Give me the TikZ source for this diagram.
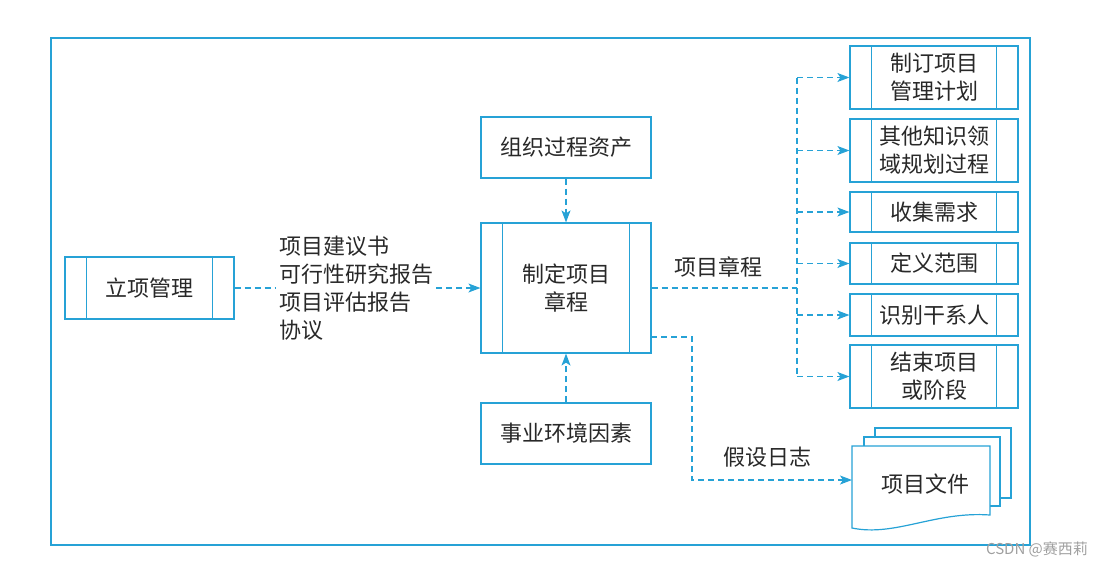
\documentclass[tikz,border=0pt]{standalone}
\usepackage{fontspec}
\setmainfont{Noto Sans CJK SC}
\usetikzlibrary{arrows.meta,calc}
\definecolor{ln}{RGB}{38,162,214}
\definecolor{tx}{RGB}{40,40,40}
\begin{document}
\begin{tikzpicture}[x=1pt,y=-1pt,
  every node/.style={font=\fontsize{22}{28}\selectfont, text=tx},
  proc/.style={draw=ln, line width=1.2pt, fill=white, rectangle, inner sep=0pt, align=center,
    path picture={
      \draw[ln,line width=1.2pt] ([xshift=21.5pt]path picture bounding box.north west) -- ([xshift=21.5pt]path picture bounding box.south west);
      \draw[ln,line width=1.2pt] ([xshift=-21.5pt]path picture bounding box.north east) -- ([xshift=-21.5pt]path picture bounding box.south east);
    }},
  plain/.style={draw=ln, line width=1.2pt, fill=white, rectangle, inner sep=0pt, align=center},
  conn/.style={ln, line width=1.1pt, dash pattern=on 6pt off 4pt},
  arr/.style={conn, -{Stealth[length=12pt,width=9pt,inset=3pt]}}
]
\useasboundingbox (0,0) rectangle (1099,565);
% frame
\draw[ln, line width=1.3pt] (51,38) rectangle (1030,545);

% nodes
\node[proc, minimum width=169pt, minimum height=62pt] (lx) at (149.5,288) {立项管理};
\node[plain, minimum width=170pt, minimum height=61pt] (org) at (566,147.5) {组织过程资产};
\node[proc, minimum width=170pt, minimum height=130pt] (charter) at (566,288) {制定项目\\章程};
\node[plain, minimum width=170pt, minimum height=61pt] (env) at (566,433.5) {事业环境因素};

\node[proc, minimum width=168pt, minimum height=63pt] (r1) at (934,77.5) {制订项目\\管理计划};
\node[proc, minimum width=168pt, minimum height=63pt] (r2) at (934,150.5) {其他知识领\\域规划过程};
\node[proc, minimum width=168pt, minimum height=40pt] (r3) at (934,212) {收集需求};
\node[proc, minimum width=168pt, minimum height=41pt] (r4) at (934,263.5) {定义范围};
\node[proc, minimum width=168pt, minimum height=42pt] (r5) at (934,315) {识别干系人};
\node[proc, minimum width=168pt, minimum height=63pt] (r6) at (934,376.5) {结束项目\\或阶段};

\node[align=left, anchor=west, inner sep=3pt] (inp) at (276,288) {项目建议书\\可行性研究报告\\项目评估报告\\协议};

% documents
\draw[ln, line width=1.2pt, fill=white] (875,428) rectangle (1011,498);
\draw[ln, line width=1.2pt, fill=white] (864,437) rectangle (1000,506);
\draw[ln, line width=1.2pt, fill=white] (852,446) -- (990,446) -- (990,515)
  .. controls (935,511) and (895,537) .. (852,528) -- cycle;
\node (doc) at (925,484) {项目文件};
\coordinate (docw) at (852,480);

% connectors
\draw[conn] (lx) -- (inp);
\draw[arr] (inp) -- (charter);
\draw[arr] (org) -- (charter);
\draw[arr] (env) -- (charter);

\coordinate (t) at (797,288);
\draw[conn] (charter.east) -- (t);
\draw[conn] (t |- r1.west) -- (t |- r6.west);
\foreach \r in {r1,r2,r3,r4,r5,r6} \draw[arr] (t |- \r.west) -- (\r.west);
\node (lab1) at (718,267) {项目章程};

\coordinate (c2) at (651,337);
\coordinate (bend) at (692,337);
\draw[arr] (c2) -- (bend) |- (docw);
\node (lab2) at (767,457) {假设日志};

\node[text=gray!75, font=\fontsize{15}{17}\selectfont] (wm) at (1037,549) {CSDN @赛西莉};
\end{tikzpicture}
\end{document}
